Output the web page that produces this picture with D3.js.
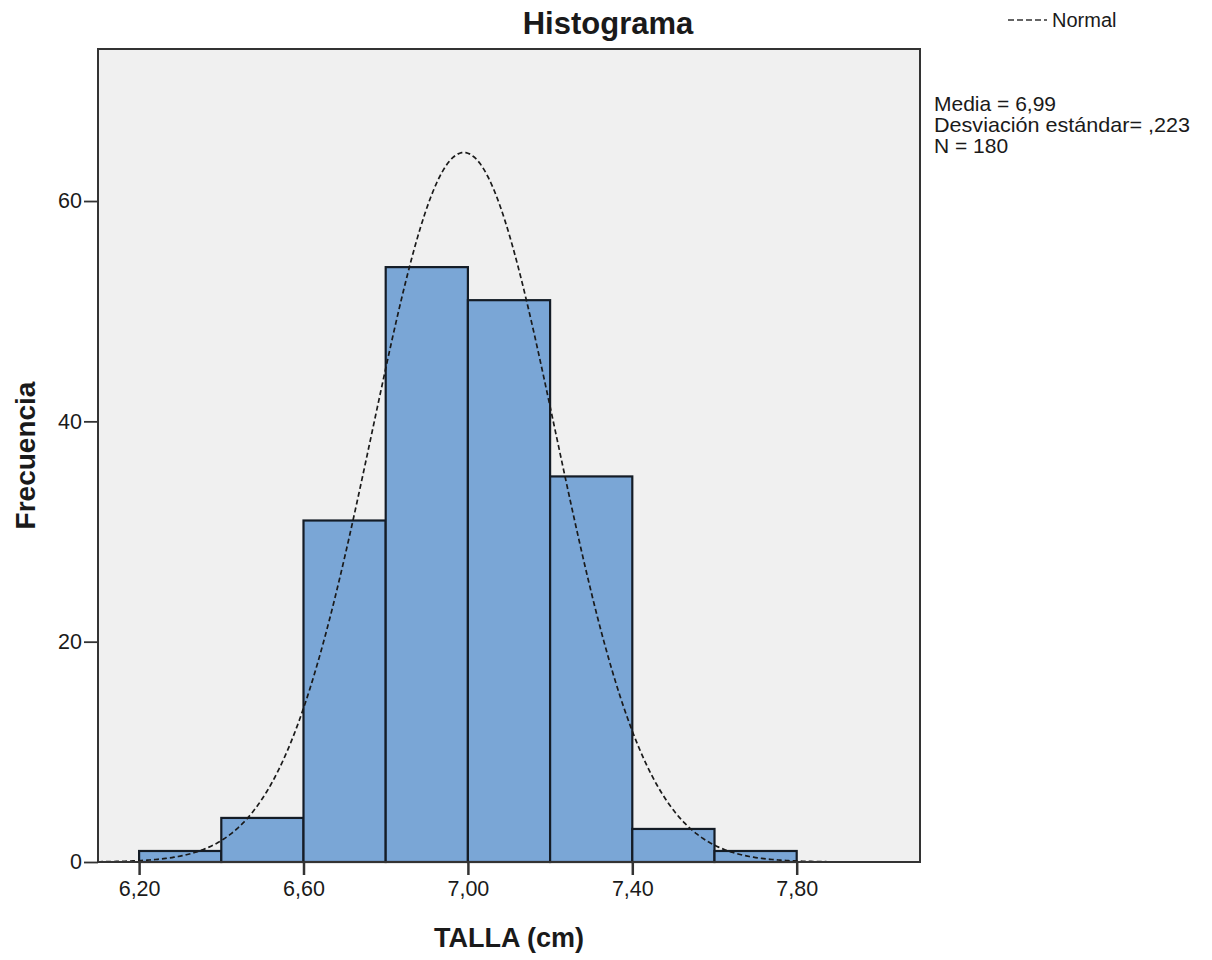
<!DOCTYPE html>
<html>
<head>
<meta charset="utf-8">
<script src="https://cdn.jsdelivr.net/npm/d3@7"></script>
<style>
  html, body { margin: 0; padding: 0; background: #fff; }
  svg { display: block; }
  text { font-family: "Liberation Sans", Arial, sans-serif; fill: #1a1a1a; }
</style>
</head>
<body>
<svg id="chart" width="1212" height="960"></svg>
<script>
// ---- data ----
const binStarts = [6.2, 6.4, 6.6, 6.8, 7.0, 7.2, 7.4, 7.6];
const binWidth = 0.2;
const counts = [1, 4, 31, 54, 51, 35, 3, 1];
const xTicks = [6.2, 6.6, 7.0, 7.4, 7.8];
const xTickLabels = ["6,20", "6,60", "7,00", "7,40", "7,80"];
const yTicks = [0, 20, 40, 60];
const statLabels = ["Media = 6,99", "Desviación estándar= ,223", "N = 180"];
const statMean = 6.99;
const statSD = 0.223;
const statN = 180;
const titleText = "Histograma";
const xTitle = "TALLA (cm)";
const yTitle = "Frecuencia";
const legendText = "Normal";

// ---- layout ----
const svg = d3.select("#chart");
const L = 98, R = 920, T = 49, B = 862;
const x = d3.scaleLinear().domain([6.1, 8.1]).range([L, R]);
const y = d3.scaleLinear().domain([0, 73.8]).range([B, T]);

// plot background
svg.append("rect").attr("x", L).attr("y", T).attr("width", R - L).attr("height", B - T)
  .attr("fill", "#f0f0f0");

// bars
svg.append("g").selectAll("rect").data(binStarts).join("rect")
  .attr("x", d => x(d))
  .attr("y", (d, i) => y(counts[i]))
  .attr("width", d => x(d + binWidth) - x(d))
  .attr("height", (d, i) => y(0) - y(counts[i]))
  .attr("fill", "#7aa6d6")
  .attr("stroke", "#141c26")
  .attr("stroke-width", 2.2);

// normal curve
const pdf = v => statN * binWidth * Math.exp(-0.5 * Math.pow((v - statMean) / statSD, 2)) / (statSD * Math.sqrt(2 * Math.PI));
const xs = d3.range(6.1, 8.1001, 0.005);
svg.append("path")
  .datum(xs)
  .attr("d", d3.line().x(d => x(d)).y(d => y(pdf(d))))
  .attr("fill", "none")
  .attr("stroke", "#1a1a1a")
  .attr("stroke-width", 1.7)
  .attr("stroke-dasharray", "5,3");

// frame
svg.append("rect").attr("x", L).attr("y", T).attr("width", R - L).attr("height", B - T)
  .attr("fill", "none").attr("stroke", "#333").attr("stroke-width", 2);

// y axis
const yAxis = d3.axisLeft(y).tickValues(yTicks).tickSize(14).tickPadding(2).tickFormat(d3.format("d"));
const gy = svg.append("g").attr("transform", `translate(${L},0)`).call(yAxis);
gy.select(".domain").remove();
gy.selectAll("line").attr("stroke", "#333").attr("stroke-width", 1.8);
gy.selectAll("text").attr("font-size", 21.5).attr("fill", "#1a1a1a")
  .attr("font-family", "Liberation Sans, Arial, sans-serif");

// x axis
const xAxis = d3.axisBottom(x).tickValues(xTicks).tickSize(13).tickPadding(6)
  .tickFormat((d, i) => xTickLabels[i]);
const gx = svg.append("g").attr("transform", `translate(0,${B})`).call(xAxis);
gx.select(".domain").remove();
gx.selectAll("line").attr("stroke", "#333").attr("stroke-width", 2.5);
gx.selectAll("text").attr("font-size", 21.5).attr("fill", "#1a1a1a")
  .attr("font-family", "Liberation Sans, Arial, sans-serif");

// titles
svg.append("text").attr("x", 608).attr("y", 34).attr("text-anchor", "middle")
  .attr("font-size", 31).attr("font-weight", "bold").text(titleText);
svg.append("text").attr("x", (L + R) / 2).attr("y", 947).attr("text-anchor", "middle")
  .attr("font-size", 27).attr("font-weight", "bold").text(xTitle);
svg.append("text").attr("transform", `translate(35,${(T + B) / 2}) rotate(-90)`)
  .attr("text-anchor", "middle")
  .attr("font-size", 28).attr("font-weight", "bold").text(yTitle);

// legend
svg.append("line").attr("x1", 1008).attr("x2", 1047).attr("y1", 20).attr("y2", 20)
  .attr("stroke", "#333").attr("stroke-width", 1.5).attr("stroke-dasharray", "6,3");
svg.append("text").attr("x", 1052).attr("y", 27).attr("font-size", 20).text(legendText);

// stats
svg.append("g").selectAll("text").data(statLabels).join("text")
  .attr("x", 934)
  .attr("y", (d, i) => 111 + i * 21)
  .attr("font-size", 21)
  .attr("textLength", (d, i) => i === 1 ? 256 : null)
  .attr("lengthAdjust", "spacingAndGlyphs")
  .text(d => d);
</script>
</body>
</html>
